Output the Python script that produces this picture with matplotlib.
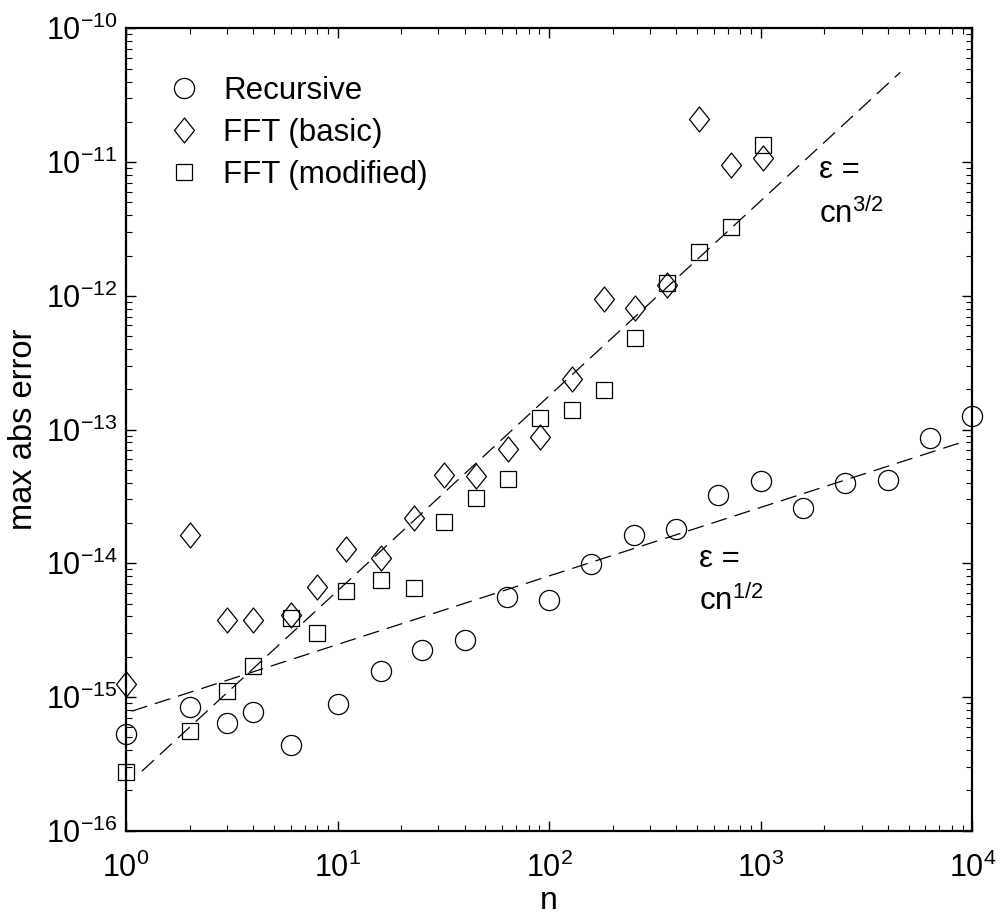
import matplotlib
matplotlib.use("Agg")
import matplotlib.pyplot as plt
from matplotlib.path import Path
from matplotlib.ticker import LogLocator, NullFormatter

plt.rcParams["font.family"] = ["Liberation Sans", "DejaVu Sans"]
plt.rcParams["mathtext.fontset"] = "custom"
plt.rcParams["mathtext.rm"] = "Liberation Sans"
plt.rcParams["mathtext.it"] = "Liberation Sans"
plt.rcParams["axes.unicode_minus"] = True

# recursive method
n_rec = [1, 2, 3, 4, 6, 10, 16, 25, 40, 63, 100, 158, 251, 398, 631,
         1000, 1585, 2512, 3981, 6310, 10000]
err_rec = [5.3e-16, 8.4e-16, 6.4e-16, 7.7e-16, 4.4e-16, 8.8e-16, 1.56e-15,
           2.24e-15, 2.66e-15, 5.55e-15, 5.3e-15, 9.85e-15, 1.64e-14, 1.8e-14,
           3.25e-14, 4.13e-14, 2.58e-14, 4.0e-14, 4.2e-14, 8.6e-14, 1.26e-13]

# FFT methods share the same n
n_fft = [1, 2, 3, 4, 6, 8, 11, 16, 23, 32, 45, 64, 91, 128, 181, 256, 362,
         512, 724, 1024]
err_basic = [1.26e-15, 1.62e-14, 3.75e-15, 3.75e-15, 4.07e-15, 6.67e-15,
             1.27e-14, 1.09e-14, 2.17e-14, 4.6e-14, 4.5e-14, 7.2e-14, 8.8e-14,
             2.38e-13, 9.5e-13, 8.1e-13, 1.21e-12, 2.09e-11, 9.5e-12, 1.08e-11]
err_modified = [2.75e-16, 5.55e-16, 1.1e-15, 1.71e-15, 3.87e-15, 3.03e-15,
                6.18e-15, 7.48e-15, 6.5e-15, 2.03e-14, 3.07e-14, 4.26e-14,
                1.23e-13, 1.4e-13, 1.97e-13, 4.85e-13, 1.24e-12, 2.13e-12,
                3.27e-12, 1.34e-11]

# fitted reference lines (end points)
fit_half_n = [1.064, 8850]
fit_half_err = [7.83e-16, 8.0e-14]
fit_threehalf_n = [1.19, 4570]
fit_threehalf_err = [2.79e-16, 4.69e-11]

x_decades = [1, 10, 100, 1000, 10000]
y_decades = [1e-16, 1e-15, 1e-14, 1e-13, 1e-12, 1e-11, 1e-10]

diamond = Path([(0, 1), (0.8, 0), (0, -1), (-0.8, 0), (0, 1)],
               [Path.MOVETO, Path.LINETO, Path.LINETO, Path.LINETO, Path.CLOSEPOLY])

fig = plt.figure(figsize=(10.02, 9.14), dpi=100)
ax = fig.add_axes([0.1257, 0.0911, 0.8446, 0.8779])

dash = (0, (13, 6.5))
ax.plot(fit_half_n, fit_half_err, color="black", lw=0.9, linestyle=dash)
ax.plot(fit_threehalf_n, fit_threehalf_err, color="black", lw=0.9, linestyle=dash)

mk = dict(linestyle="none", markerfacecolor="none", markeredgecolor="black",
          markeredgewidth=0.9, clip_on=False)
ax.plot(n_rec, err_rec, marker="o", markersize=14.5, label="Recursive", **mk)
ax.plot(n_fft, err_basic, marker=diamond, markersize=18, label="FFT (basic)", **mk)
ax.plot(n_fft, err_modified, marker="s", markersize=11.5, label="FFT (modified)", **mk)

ax.set_xscale("log")
ax.set_yscale("log")
ax.set_xlim(1, 1e4)
ax.set_ylim(1e-16, 1e-10)
ax.set_xticks(x_decades)
ax.set_yticks(y_decades)
ax.xaxis.set_minor_locator(LogLocator(base=10, subs=range(2, 10), numticks=10))
ax.yaxis.set_minor_locator(LogLocator(base=10, subs=range(2, 10), numticks=10))
ax.xaxis.set_minor_formatter(NullFormatter())
ax.yaxis.set_minor_formatter(NullFormatter())

for s in ax.spines.values():
    s.set_linewidth(1.6)
ax.tick_params(which="both", direction="in", top=True, right=True, labelsize=22)
ax.tick_params(which="major", length=7, width=1.0)
ax.tick_params(axis="x", which="major", pad=16)
ax.tick_params(axis="y", which="major", pad=6)
ax.tick_params(which="minor", length=4, width=0.8)

ax.set_xlabel("n", fontsize=23, labelpad=1)
ax.set_ylabel("max abs error", fontsize=23.5, labelpad=5)

# annotations (baseline positions)
ax.text(1884, 7.58e-12, "ε =", fontsize=22.5, va="baseline", ha="left")
ax.text(1884, 3.5e-12, r"cn$^{3/2}$", fontsize=22.5, va="baseline", ha="left")
ax.text(509, 9.35e-15, "ε =", fontsize=22.5, va="baseline", ha="left")
ax.text(509, 4.47e-15, r"cn$^{1/2}$", fontsize=22.5, va="baseline", ha="left")

ax.legend(loc="upper left", frameon=False, fontsize=22.5, handlelength=1.0,
          handletextpad=0.75, labelspacing=0.38, borderaxespad=0, borderpad=0,
          bbox_to_anchor=(0.0502, 0.9405))

fig.savefig("out.png", dpi=100)
